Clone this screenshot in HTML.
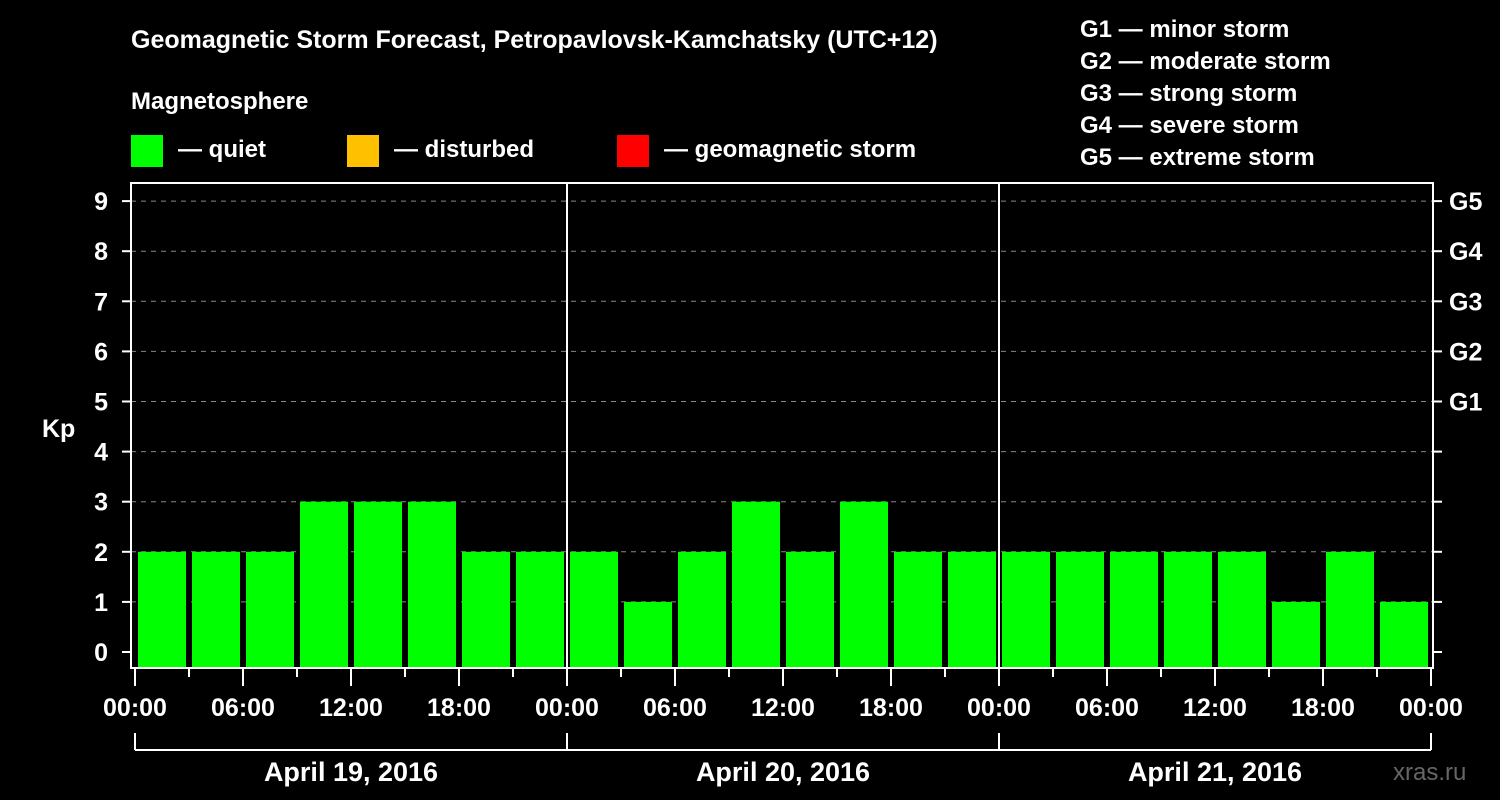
<!DOCTYPE html>
<html><head><meta charset="utf-8"><style>
html,body{margin:0;padding:0;background:#000;}
svg{display:block;font-family:"Liberation Sans",Arial,sans-serif;font-weight:bold;}
</style></head><body>
<svg id="chart" width="1500" height="800" viewBox="0 0 1500 800" xmlns="http://www.w3.org/2000/svg">
<rect width="1500" height="800" fill="#000"/>
<text x="131" y="48" fill="#fff" font-size="25">Geomagnetic Storm Forecast, Petropavlovsk-Kamchatsky (UTC+12)</text>
<text x="131" y="109" fill="#fff" font-size="24">Magnetosphere</text>
<rect x="131" y="135" width="32" height="32" fill="#00ff00"/>
<text x="178" y="157" fill="#fff" font-size="24">— quiet</text>
<rect x="347" y="135" width="32" height="32" fill="#ffc000"/>
<text x="394" y="157" fill="#fff" font-size="24">— disturbed</text>
<rect x="617" y="135" width="32" height="32" fill="#ff0000"/>
<text x="664" y="157" fill="#fff" font-size="24">— geomagnetic storm</text>
<g fill="#fff" font-size="24">
<text x="1080" y="37">G1 — minor storm</text>
<text x="1080" y="69">G2 — moderate storm</text>
<text x="1080" y="101">G3 — strong storm</text>
<text x="1080" y="133">G4 — severe storm</text>
<text x="1080" y="165">G5 — extreme storm</text>
</g>
<text x="42" y="437" fill="#fff" font-size="25">Kp</text>
<text x="1393" y="780" fill="#666" font-size="24" font-weight="normal">xras.ru</text>
<g id="grid"></g><g id="bars"></g><g id="axes"></g>
</svg>
<script>
const categories=["00","03","06","09","12","15","18","21","00","03","06","09","12","15","18","21","00","03","06","09","12","15","18","21"];
const kpValues=[2,2,2,3,3,3,2,2, 2,1,2,3,2,3,2,2, 2,2,2,2,2,1,2,1];
const yTicks=[0,1,2,3,4,5,6,7,8,9];
const gLabels=["G1","G2","G3","G4","G5"];
const dayLabels=["April 19, 2016","April 20, 2016","April 21, 2016"];
const hourLabels=["00:00","06:00","12:00","18:00"];
const NS="http://www.w3.org/2000/svg";
const L=131,R=1433,T=183,B=668,X0=135,slot=54;
function y(v){return 652-v*50.1;}
function x(i){return X0+i*slot;}
function mk(p,tag,a){const e=document.createElementNS(NS,tag);for(const k in a)e.setAttribute(k,a[k]);document.getElementById(p).appendChild(e);return e;}
yTicks.forEach(v=>{
 if(v>0){const g=mk('grid','line',{x1:L,x2:R,y1:y(v),y2:y(v),stroke:'#888','stroke-dasharray':'5,5','stroke-width':1});
 
 }
 const t=mk('axes','line',{x1:122,x2:L,y1:y(v),y2:y(v),stroke:'#fff','stroke-width':2});
 
 
 const t2=mk('axes','line',{x1:R,x2:1442,y1:y(v),y2:y(v),stroke:'#fff','stroke-width':2});
 
 
 const l=mk('axes','text',{x:108,y:y(v)+9,fill:'#fff','font-size':25,'text-anchor':'end'});l.textContent=v;
 
 
});
gLabels.forEach((g,i)=>{const l=mk('axes','text',{x:1449,y:y(5+i)+9,fill:'#fff','font-size':25});l.textContent=g;
 
 });
kpValues.forEach((v,i)=>{
 const r=mk('bars','rect',{x:x(i)+3,y:y(v),width:48,height:B-y(v),fill:'#00ff00'});
 
 
});
const f=mk('axes','rect',{x:L,y:T,width:R-L,height:B-T,fill:'none',stroke:'#fff','stroke-width':2});


for(let d=1;d<3;d++){const s=mk('axes','line',{x1:x(d*8),x2:x(d*8),y1:T,y2:B,stroke:'#fff','stroke-width':2});
 
 }
for(let i=0;i<=categories.length;i++){
 const major=i%2===0;
 const t=mk('axes','line',{x1:x(i),x2:x(i),y1:B,y2:major?686:677,stroke:'#fff','stroke-width':2});
 
 
 if(major){const l=mk('axes','text',{x:x(i),y:716,fill:'#fff','font-size':25,'text-anchor':'middle'});l.textContent=hourLabels[(i/2)%4];
 
 }
}
const br=mk('axes','line',{x1:x(0),x2:x(24),y1:750,y2:750,stroke:'#fff','stroke-width':2});


for(let d=0;d<=3;d++){const t=mk('axes','line',{x1:x(d*8),x2:x(d*8),y1:733,y2:750,stroke:'#fff','stroke-width':2});
 
 }
dayLabels.forEach((s,d)=>{const l=mk('axes','text',{x:x(d*8+4),y:781,fill:'#fff','font-size':27,'text-anchor':'middle'});l.textContent=s;
 
 });
</script>
</body></html>
